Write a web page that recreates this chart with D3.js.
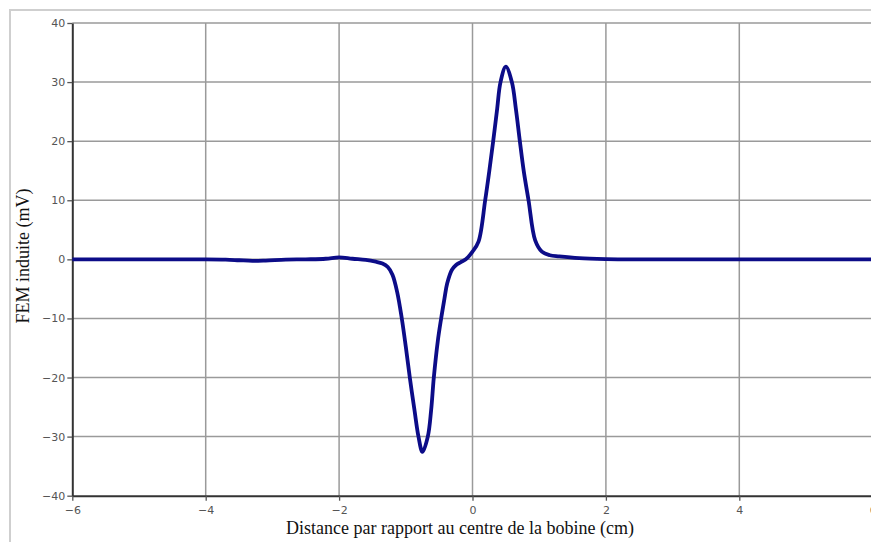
<!DOCTYPE html>
<html>
<head>
<meta charset="utf-8">
<script src="https://cdn.jsdelivr.net/npm/d3@7"></script>
<style>
  body { margin: 0; background: #fff; }
  svg { display: block; }
</style>
</head>
<body>
<svg id="chart" width="871" height="542"></svg>
<script>
// distance (cm) and induced emf (mV)
const distance = [-6, -5, -4, -3.7, -3.5, -3.3, -3.1, -2.8, -2.5, -2.2, -2.0, -1.8, -1.6, -1.45, -1.35,
  -1.27, -1.2, -1.13, -1.06, -1.0, -0.94, -0.87, -0.81, -0.75, -0.67, -0.62, -0.58,
  -0.52, -0.47, -0.42, -0.38, -0.31, -0.25, -0.18, -0.1, 0.0, 0.09, 0.19, 0.25, 0.31,
  0.37, 0.42, 0.5, 0.59, 0.65, 0.71, 0.77, 0.84, 0.94, 1.04, 1.16, 1.3,
  1.6, 2.0, 2.5, 3, 4, 5, 6];
const fem = [0, 0, 0, -0.05, -0.15, -0.25, -0.2, -0.05, 0, 0.1, 0.35, 0.1, -0.1, -0.4, -0.7,
  -1.3, -2.6, -5.5, -10, -14.8, -20, -25.5, -30, -32.6, -30, -25.5, -20,
  -13.8, -10, -6.6, -4.1, -1.8, -1.0, -0.5, 0, 1.3, 3, 10, 14.8, 20,
  25.5, 30, 32.6, 30, 25.5, 20, 14.8, 10, 3.2, 1.3, 0.7, 0.5,
  0.2, 0.05, 0, 0, 0, 0, 0];

const xTicks = [-6, -4, -2, 0, 2, 4, 6];
const yTicks = [-40, -30, -20, -10, 0, 10, 20, 30, 40];
const xTitle = "Distance par rapport au centre de la bobine (cm)";
const yTitle = "FEM induite (mV)";

const svg = d3.select("#chart");
const plotLeft = 72.3, plotRight = 872.7, plotTop = 23, plotBottom = 495.7;

const x = d3.scaleLinear().domain([-6, 6]).range([plotLeft, plotRight]);
const y = d3.scaleLinear().domain([-40, 40]).range([plotBottom, plotTop]);

// outer frame (runs off the right and bottom edges)
svg.append("rect")
  .attr("x", 10).attr("y", 10)
  .attr("width", 900).attr("height", 600)
  .attr("fill", "none")
  .attr("stroke", "#cfcfcf")
  .attr("stroke-width", 2);

// grid
const grid = svg.append("g").attr("stroke", "#9a9a9a").attr("stroke-width", 1.5);
grid.selectAll(".gx").data(xTicks.filter(d => d !== -6)).join("line")
  .attr("x1", d => x(d)).attr("x2", d => x(d))
  .attr("y1", plotTop).attr("y2", plotBottom);
grid.selectAll(".gy").data(yTicks.filter(d => d !== -40)).join("line")
  .attr("x1", plotLeft).attr("x2", plotRight)
  .attr("y1", d => y(d)).attr("y2", d => y(d));

const fmt = d => d < 0 ? "\u2212" + Math.abs(d) : String(d);

const xAxis = svg.append("g")
  .attr("transform", `translate(0,${plotBottom})`)
  .call(d3.axisBottom(x).tickValues(xTicks).tickFormat(fmt).tickSize(5).tickSizeOuter(0));
const yAxis = svg.append("g")
  .attr("transform", `translate(${plotLeft},0)`)
  .call(d3.axisLeft(y).tickValues(yTicks).tickFormat(fmt).tickSize(5).tickSizeOuter(0));

[xAxis, yAxis].forEach(a => {
  a.select(".domain").attr("stroke", "#333").attr("stroke-width", 2);
  a.selectAll(".tick line").attr("stroke", "#555").attr("stroke-width", 1.3);
  a.selectAll(".tick text")
    .attr("fill", "#555")
    .style("font-family", "'DejaVu Sans', sans-serif")
    .style("font-size", "11px");
});
xAxis.selectAll(".tick text").attr("dy", "0.9em");
yAxis.selectAll(".tick text").attr("x", -7);

// curve
const line = d3.line()
  .x((d, i) => x(distance[i]))
  .y(d => y(d))
  .curve(d3.curveCatmullRom.alpha(0.5));

svg.append("path")
  .datum(fem)
  .attr("d", line)
  .attr("fill", "none")
  .attr("stroke", "#0c0c88")
  .attr("stroke-width", 3.8)
  .attr("stroke-linejoin", "round");

// titles
svg.append("text")
  .attr("x", 460).attr("y", 534)
  .attr("text-anchor", "middle")
  .style("font-family", "'Liberation Serif', serif")
  .style("font-size", "18px")
  .attr("fill", "#111")
  .text(xTitle);

svg.append("text")
  .attr("transform", "translate(29,256) rotate(-90)")
  .attr("text-anchor", "middle")
  .style("font-family", "'Liberation Serif', serif")
  .style("font-size", "18px")
  .attr("fill", "#111")
  .text(yTitle);
</script>
</body>
</html>
